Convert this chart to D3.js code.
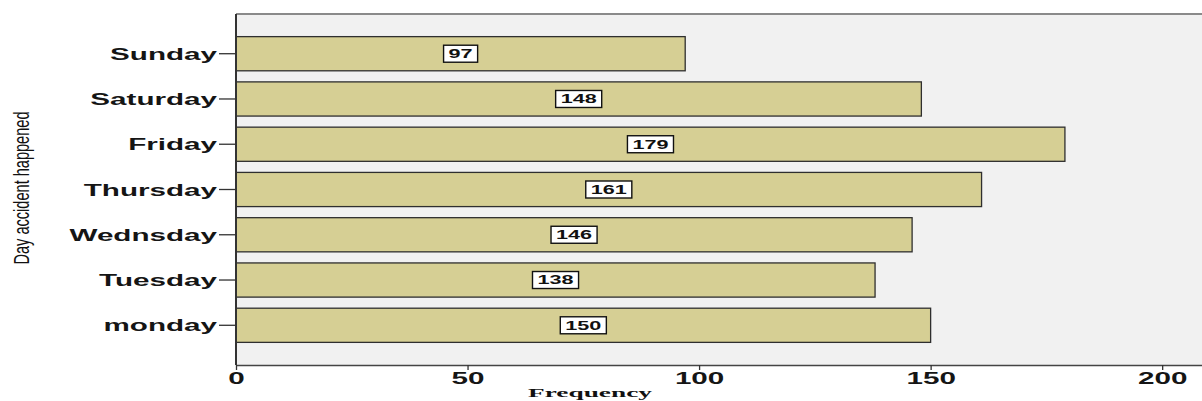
<!DOCTYPE html>
<html>
<head>
<meta charset="utf-8">
<script src="https://cdn.jsdelivr.net/npm/d3@7/dist/d3.min.js"></script>
<style>
  html, body { margin: 0; padding: 0; background: #ffffff; }
  svg { display: block; }
</style>
</head>
<body>
<svg id="chart" width="1202" height="401"></svg>
<script>
// ---- data ----
const days = ["Sunday", "Saturday", "Friday", "Thursday", "Wednsday", "Tuesday", "monday"];
const counts = [97, 148, 179, 161, 146, 138, 150];
const xTicks = [0, 50, 100, 150, 200];
const xTitle = "Frequency";
const yTitle = "Day accident happened";

const svg = d3.select("#chart");
const plot = { left: 236, right: 1202, top: 14, bottom: 365 };

const x = d3.scaleLinear().domain([0, 208.6]).range([plot.left, plot.right]);
const y = d3.scaleBand().domain(days).range([plot.top, plot.bottom])
  .paddingInner(0.245).paddingOuter(0.5);

const STRETCH = 1.85;
function stretch(sel, f) {
  sel.each(function () {
    const w = this.getComputedTextLength();
    this.__w = w * f;
    d3.select(this).attr("textLength", w * f).attr("lengthAdjust", "spacingAndGlyphs");
  });
}

// plot background
svg.append("rect")
  .attr("x", plot.left).attr("y", plot.top)
  .attr("width", plot.right - plot.left).attr("height", plot.bottom - plot.top)
  .attr("fill", "#f1f1f1");

// top frame line
svg.append("line")
  .attr("x1", plot.left).attr("x2", plot.right)
  .attr("y1", plot.top).attr("y2", plot.top)
  .attr("stroke", "#8a8a8a").attr("stroke-width", 2);

// bars
svg.append("g").selectAll("rect")
  .data(days.map((d, i) => ({ day: d, v: counts[i] })))
  .join("rect")
  .attr("x", x(0))
  .attr("y", d => y(d.day))
  .attr("width", d => x(d.v) - x(0))
  .attr("height", y.bandwidth())
  .attr("fill", "#d6cf94")
  .attr("stroke", "#2f2f2f")
  .attr("stroke-width", 1.3);

// value labels
const lab = svg.append("g").selectAll("g")
  .data(days.map((d, i) => ({ day: d, v: counts[i] })))
  .join("g")
  .attr("transform", d => `translate(${x(d.v / 2)},${y(d.day) + y.bandwidth() / 2})`);
const labText = lab.append("text")
  .attr("text-anchor", "middle")
  .attr("y", 4.3)
  .attr("font-family", "Liberation Sans, Arial, sans-serif")
  .attr("font-weight", "bold")
  .attr("font-size", 12)
  .attr("fill", "#111")
  .text(d => d.v);
stretch(labText, 1.8);
lab.insert("rect", "text")
  .each(function () {
    const t = d3.select(this.parentNode).select("text").node();
    const w = t.__w + 10;
    d3.select(this).attr("x", -w / 2).attr("y", -8.5).attr("width", w).attr("height", 17);
  })
  .attr("fill", "#ffffff")
  .attr("stroke", "#111")
  .attr("stroke-width", 1.4);

// y axis
const yAxis = svg.append("g")
  .attr("transform", `translate(${plot.left},0)`)
  .call(d3.axisLeft(y).tickSize(17).tickPadding(2));
yAxis.select(".domain").remove();
yAxis.selectAll(".tick line").attr("stroke", "#333").attr("stroke-width", 1.3);
yAxis.selectAll(".tick text")
  .attr("font-family", "Liberation Sans, Arial, sans-serif")
  .attr("font-weight", "bold")
  .attr("font-size", 16)
  .attr("fill", "#151515")
  .attr("dy", "0.38em");
stretch(yAxis.selectAll(".tick text"), STRETCH);
svg.append("line")
  .attr("x1", plot.left).attr("x2", plot.left)
  .attr("y1", plot.top).attr("y2", plot.bottom)
  .attr("stroke", "#333").attr("stroke-width", 2);

// x axis
const xAxis = svg.append("g")
  .attr("transform", `translate(0,${plot.bottom})`)
  .call(d3.axisBottom(x).tickValues(xTicks).tickSize(5).tickPadding(3).tickSizeOuter(0));
xAxis.select(".domain").attr("stroke", "#444").attr("stroke-width", 1.5);
xAxis.selectAll(".tick line").attr("stroke", "#333").attr("stroke-width", 1.3);
xAxis.selectAll(".tick text")
  .attr("font-family", "Liberation Sans, Arial, sans-serif")
  .attr("font-weight", "bold")
  .attr("font-size", 16)
  .attr("fill", "#151515");
stretch(xAxis.selectAll(".tick text"), STRETCH);

// axis titles
const xt = svg.append("text")
  .attr("x", 590).attr("y", 397)
  .attr("text-anchor", "middle")
  .attr("font-family", "Liberation Serif, Times New Roman, serif")
  .attr("font-weight", "bold")
  .attr("font-size", 13)
  .attr("fill", "#111")
  .text(xTitle);
stretch(xt, 2.1);

svg.append("text")
  .attr("transform", "translate(29,188) rotate(-90)")
  .attr("text-anchor", "middle")
  .attr("font-family", "Liberation Sans Narrow, Arial Narrow, Liberation Sans, sans-serif")
  .attr("font-size", 22)
  .attr("fill", "#111")
  .attr("textLength", 153)
  .attr("lengthAdjust", "spacingAndGlyphs")
  .text(yTitle);
</script>
</body>
</html>
